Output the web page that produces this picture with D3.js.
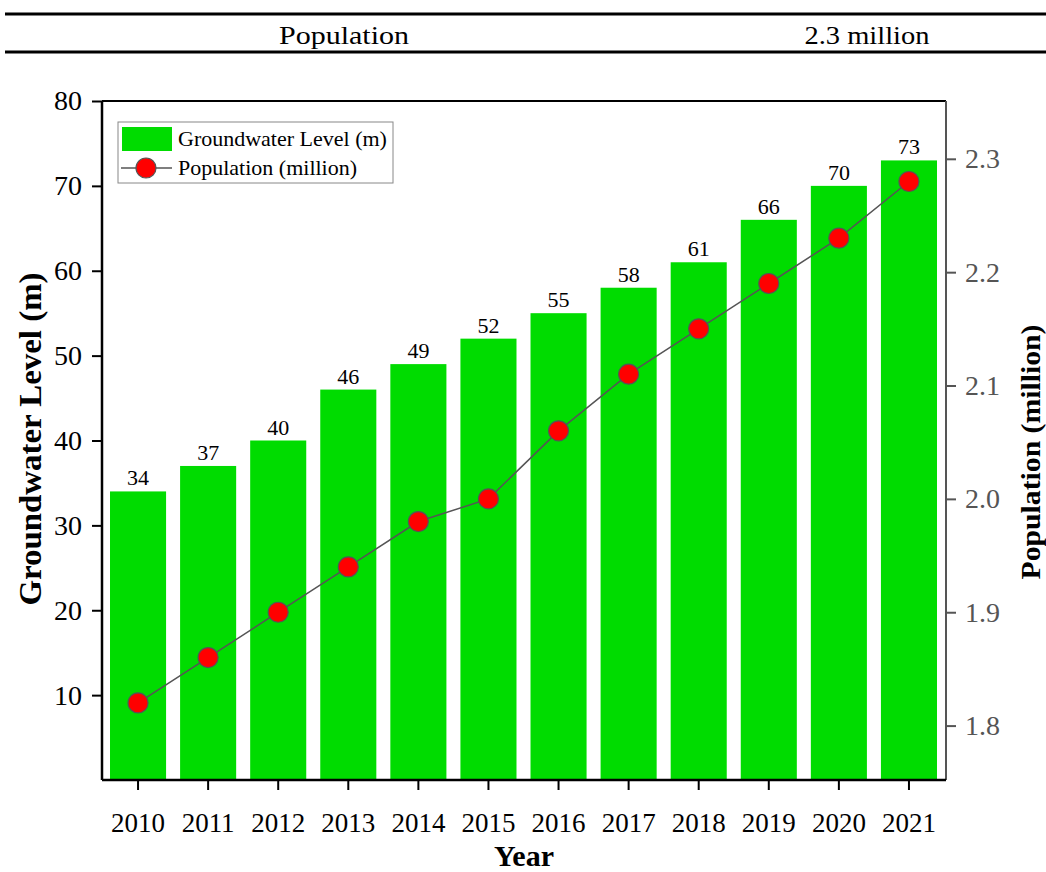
<!DOCTYPE html>
<html><head><meta charset="utf-8">
<script src="https://cdn.jsdelivr.net/npm/d3@7"></script>
<style>body{margin:0;background:#fff}svg{display:block}</style>
</head><body>
<script>
const years = ["2010","2011","2012","2013","2014","2015","2016","2017","2018","2019","2020","2021"];
const groundwater = [34,37,40,46,49,52,55,58,61,66,70,73];
const population = [1.82,1.86,1.90,1.94,1.98,2.00,2.06,2.11,2.15,2.19,2.23,2.28];
const leftTicks = [10,20,30,40,50,60,70,80];
const rightTicks = [1.8,1.9,2.0,2.1,2.2,2.3];
const tableRow = ["Population","2.3 million"];

const W=1046,H=872;
const svg=d3.select("body").append("svg").attr("width",W).attr("height",H);
const serif="'Liberation Serif','Times New Roman',serif";

// table fragment on top
svg.append("line").attr("x1",5).attr("x2",W).attr("y1",14).attr("y2",14).attr("stroke","#000").attr("stroke-width",3);
svg.append("line").attr("x1",5).attr("x2",W).attr("y1",52).attr("y2",52).attr("stroke","#000").attr("stroke-width",3);
svg.append("text").attr("x",344).attr("y",44).attr("text-anchor","middle").attr("font-family",serif).attr("font-size",26)
  .attr("textLength",130).attr("lengthAdjust","spacingAndGlyphs").text(tableRow[0]);
svg.append("text").attr("x",867).attr("y",44).attr("text-anchor","middle").attr("font-family",serif).attr("font-size",26)
  .attr("textLength",125).attr("lengthAdjust","spacingAndGlyphs").text(tableRow[1]);

const L=102,R=946,T=101,B=780;
const x=d3.scaleBand().domain(years).range([103,944]).paddingInner(0.2).paddingOuter(0.1);
const y=d3.scaleLinear().domain([0,80]).range([B,T]);
const y2=d3.scaleLinear().domain([1.752,2.351]).range([B,T]);

// bars
svg.append("g").selectAll("rect").data(years).join("rect")
  .attr("x",d=>x(d)).attr("width",x.bandwidth())
  .attr("y",(d,i)=>y(groundwater[i])).attr("height",(d,i)=>B-y(groundwater[i]))
  .attr("fill","#00dc00");
svg.append("g").selectAll("text").data(years).join("text")
  .attr("x",d=>x(d)+x.bandwidth()/2).attr("y",(d,i)=>y(groundwater[i])-6)
  .attr("text-anchor","middle").attr("font-family",serif).attr("font-size",22).text((d,i)=>groundwater[i]);

// line
const cx=d=>x(d)+x.bandwidth()/2;
svg.append("path").datum(years).attr("fill","none").attr("stroke","#555").attr("stroke-width",1.5)
  .attr("d",d3.line().x(cx).y((d,i)=>y2(population[i])));
svg.append("g").selectAll("circle").data(years).join("circle")
  .attr("cx",cx).attr("cy",(d,i)=>y2(population[i])).attr("r",10)
  .attr("fill","#ff0000").attr("stroke","#555").attr("stroke-width",1.2);

// frame
svg.append("line").attr("x1",L).attr("x2",R).attr("y1",T).attr("y2",T).attr("stroke","#000").attr("stroke-width",2);

// axes
const ax=svg.append("g").attr("transform",`translate(${L},0)`)
  .call(d3.axisLeft(y).tickValues(leftTicks).tickSize(10).tickSizeOuter(0).tickPadding(10));
ax.select(".domain").attr("stroke-width",2.5).attr("d",`M0,${T}V${B}`);
ax.selectAll(".tick line").attr("stroke-width",2);
ax.selectAll("text").attr("font-family",serif).attr("font-size",28).attr("fill","#000");

const ax2=svg.append("g").attr("transform",`translate(${R},0)`)
  .call(d3.axisRight(y2).tickValues(rightTicks).tickFormat(d3.format(".1f")).tickSize(10).tickSizeOuter(0).tickPadding(9));
ax2.select(".domain").attr("stroke","#555").attr("stroke-width",2).attr("d",`M0,${T}V${B}`);
ax2.selectAll(".tick line").attr("stroke","#555").attr("stroke-width",2);
ax2.selectAll("text").attr("font-family",serif).attr("font-size",28).attr("fill","#555");

const axb=svg.append("g").attr("transform",`translate(0,${B})`)
  .call(d3.axisBottom(x).tickSize(10).tickSizeOuter(0).tickPadding(23));
axb.select(".domain").attr("stroke-width",2.5).attr("d",`M${L},0H${R}`);
axb.selectAll(".tick line").attr("stroke-width",2);
axb.selectAll("text").attr("font-family",serif).attr("font-size",27).attr("fill","#000");

// axis titles
svg.append("text").attr("transform","translate(41,439) rotate(-90)").attr("text-anchor","middle")
  .attr("font-family",serif).attr("font-weight","bold").attr("font-size",31)
  .attr("textLength",333).attr("lengthAdjust","spacingAndGlyphs").text("Groundwater Level (m)");
svg.append("text").attr("transform","translate(1040,452) rotate(-90)").attr("text-anchor","middle")
  .attr("font-family",serif).attr("font-weight","bold").attr("font-size",27)
  .attr("textLength",255).attr("lengthAdjust","spacingAndGlyphs").text("Population (million)");
svg.append("text").attr("x",524).attr("y",866).attr("text-anchor","middle")
  .attr("font-family",serif).attr("font-weight","bold").attr("font-size",30).text("Year");

// legend
const lg=svg.append("g");
lg.append("rect").attr("x",118).attr("y",122).attr("width",275).attr("height",61).attr("fill","#fff").attr("stroke","#888").attr("stroke-width",1);
lg.append("rect").attr("x",122).attr("y",127).attr("width",50).attr("height",24).attr("fill","#00dc00");
lg.append("line").attr("x1",121).attr("x2",172).attr("y1",168).attr("y2",168).attr("stroke","#555").attr("stroke-width",1.5);
lg.append("circle").attr("cx",146).attr("cy",168).attr("r",10).attr("fill","#ff0000").attr("stroke","#555").attr("stroke-width",1.2);
lg.append("text").attr("x",178).attr("y",146).attr("font-family",serif).attr("font-size",22).text("Groundwater Level (m)");
lg.append("text").attr("x",178).attr("y",175).attr("font-family",serif).attr("font-size",22).text("Population (million)");
</script>
</body></html>
